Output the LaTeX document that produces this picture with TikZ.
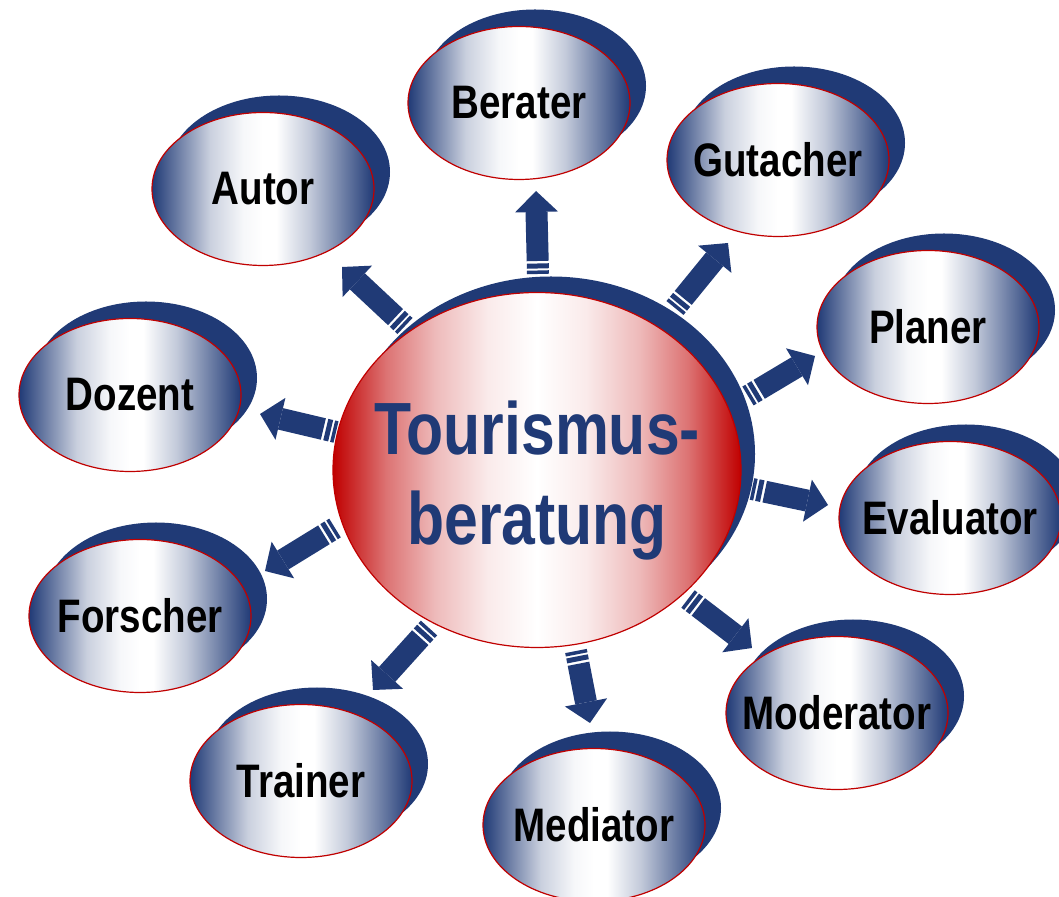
\documentclass[tikz,border=0pt]{standalone}
\usepackage{fontspec}
\usetikzlibrary{arrows.meta,shapes.geometric,shadows}
\newfontfamily\diagfont{Liberation Sans}[FakeStretch=0.82]
\definecolor{rolenavy}{HTML}{203A76}
\definecolor{rolered}{HTML}{C00000}
\pgfdeclarehorizontalshading{hubglow}{100bp}{color(0bp)=(rolered); color(25bp)=(rolered); color(31.5bp)=(rolered!55!white); color(37.5bp)=(rolered!27!white); color(44bp)=(rolered!8!white); color(50bp)=(white); color(56bp)=(rolered!8!white); color(62.5bp)=(rolered!27!white); color(68.5bp)=(rolered!55!white); color(75bp)=(rolered); color(100bp)=(rolered)}
\pgfdeclarehorizontalshading{roleglow}{100bp}{color(0bp)=(rolenavy); color(25bp)=(rolenavy); color(30.5bp)=(rolenavy!68!white); color(38bp)=(rolenavy!24!white); color(45.5bp)=(rolenavy!4!white); color(50bp)=(white); color(53bp)=(white); color(60.5bp)=(rolenavy!27!white); color(68bp)=(rolenavy!65!white); color(75bp)=(rolenavy); color(100bp)=(rolenavy)}
% text that does not widen the ellipse
\newcommand\slim[1]{\makebox[0pt]{#1}}

\begin{document}
\begin{tikzpicture}[x=1pt,y=1pt,
 role/.style={ellipse,draw=rolered,line width=1.2pt,shading=roleglow,minimum width=222pt,minimum height=153pt,inner sep=0pt,
  font=\diagfont\bfseries\fontsize{47}{50}\selectfont,general shadow={shadow xshift=16pt,shadow yshift=17pt,fill=rolenavy}},
 hub/.style={ellipse,draw=rolered,line width=1.2pt,shading=hubglow,minimum width=408pt,minimum height=355pt,inner sep=0pt,
  text=rolenavy,align=center,font=\diagfont\bfseries\fontsize{74}{90}\selectfont,general shadow={shadow xshift=14pt,shadow yshift=16pt,fill=rolenavy}},
 outarrow/.style={draw=rolenavy,line width=22pt,dash pattern=on 3.5pt off 2pt on 5pt off 2.5pt on 200pt off 10pt,
  -{Triangle[width=43pt,length=21pt,line width=0pt]}}]
\useasboundingbox (0,0) rectangle (1059,896);
\node[hub] (hub) at (537,426) {\rule{0pt}{75pt}\slim{Tourismus-}\\\slim{beratung}};
\node[role] (berater) at (519,793) {\slim{Berater}};
\node[role] (gutacher) at (778,736) {\slim{Gutacher}};
\node[role] (planer) at (928,569) {\slim{Planer}};
\node[role] (evaluator) at (950,378) {\slim{Evaluator}};
\node[role] (moderator) at (837,183) {\slim{Moderator}};
\node[role] (mediator) at (594,71) {\slim{Mediator}};
\node[role] (trainer) at (301,115) {\slim{Trainer}};
\node[role] (forscher) at (140,280) {\slim{Forscher}};
\node[role] (dozent) at (130,501) {\slim{Dozent}};
\node[role] (autor) at (263,707) {\slim{Autor}};
% arrows from the hub outwards
\foreach \role/\bx/\by/\tx/\ty in {berater/538/622/536/705, gutacher/675/588/728/653, planer/748/500/815/540,
  evaluator/752/407/828/391, moderator/688/297/752/248, mediator/576/245/590/173, trainer/429/268/373/206,
  forscher/335/368/265/325, dozent/336/464/260/482, autor/405/570/342/629} {
 \coordinate (\role-base) at (\bx,\by);
 \coordinate (\role-tip) at (\tx,\ty);
 \draw[outarrow] (\role-base) -- (\role-tip);
}
\end{tikzpicture}
\end{document}
